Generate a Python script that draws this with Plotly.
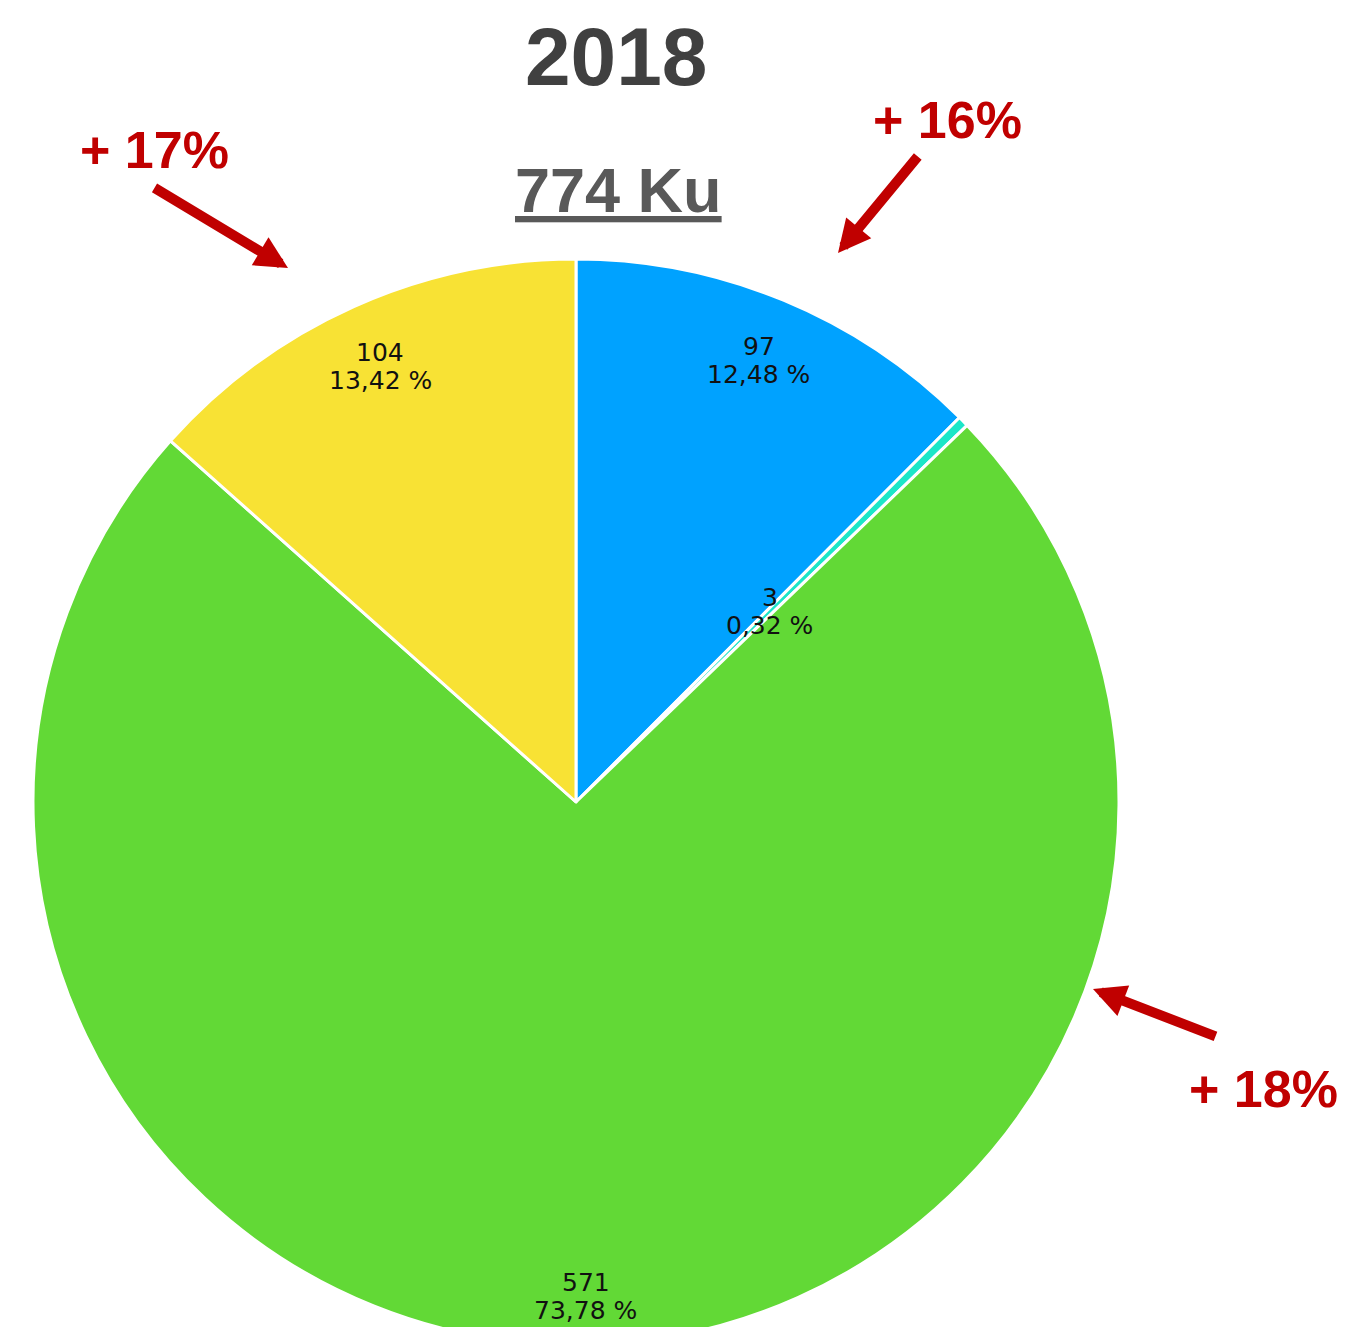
import math
import plotly.graph_objects as go

# ---------------- data ----------------
categories = ["Bleu", "Turquoise", "Vert", "Jaune"]
values = [97, 3, 571, 104]
percents = [12.48, 0.32, 73.78, 13.42]
percent_labels = ["12,48 %", "0,32 %", "73,78 %", "13,42 %"]
colors = ["#00A2FF", "#1CE6C8", "#62D936", "#F8E234"]
title_year = "2018"
total_label = "774 Ku"
growth_labels = ["+ 16%", "+ 17%", "+ 18%"]

# ---------------- geometry / style ----------------
W, H = 1362, 1337
OFF = 8  # page body margin
pie_top_page = 259
pie_bottom_fig = H
pie_top_fig = pie_top_page - OFF
R = (pie_bottom_fig - pie_top_fig) / 2
cx_page = 576
cx_fig = cx_page - OFF
pie_left_fig = cx_fig - R
pie_right_fig = cx_fig + R
label_radius = [0.88, 0.5, 0.91, 0.88]


def px(x):  # page pixel -> paper
    return (x - OFF) / W


def py(y):
    return 1 - (y - OFF) / H


def fx(x):  # figure pixel -> paper
    return x / W


def fy(y):
    return 1 - y / H


fig = go.Figure()
fig.add_trace(go.Pie(
    labels=categories,
    values=percents,
    sort=False,
    direction="clockwise",
    rotation=0,
    marker=dict(colors=colors, line=dict(color="white", width=3)),
    textinfo="none",
    hoverinfo="label+value",
    showlegend=False,
    domain=dict(x=[fx(pie_left_fig), fx(pie_right_fig)], y=[fy(pie_bottom_fig), fy(pie_top_fig)]),
))

cx = cx_fig
cy = (pie_top_fig + pie_bottom_fig) / 2

annotations = []
# slice labels computed from the data angles
total = sum(percents)
cum = 0
for v, p_lab, val, f in zip(percents, percent_labels, values, label_radius):
    mid = (cum + v / 2) / total * 2 * math.pi
    cum += v
    lx = cx + f * R * math.sin(mid)
    ly = cy - f * R * math.cos(mid)
    for txt, shift in ((str(val), 14), (p_lab, -14)):
        annotations.append(dict(
            x=fx(lx), y=fy(ly), xref="paper", yref="paper", text=txt,
            xanchor="center", yanchor="middle",
            showarrow=False, yshift=shift,
            font=dict(family="DejaVu Sans", size=25, color="#111111"),
        ))

# titles
annotations.append(dict(
    x=px(616), y=py(56), xref="paper", yref="paper", text="<b>" + title_year + "</b>",
    xanchor="center", yanchor="middle", borderpad=0,
    showarrow=False, font=dict(family="Liberation Sans", size=82, color="#404040"),
))
annotations.append(dict(
    x=px(618), y=py(190), xref="paper", yref="paper",
    text="<b><u>" + total_label + "</u></b>",
    xanchor="center", yanchor="middle",
    showarrow=False, font=dict(family="Liberation Sans", size=63, color="#595959"),
))

# growth labels
red = "#C00000"
growth_pos = [(947, 120), (154, 150), (1263, 1089)]
for txt, (tx, ty) in zip(growth_labels, growth_pos):
    annotations.append(dict(
        x=px(tx), y=py(ty), xref="paper", yref="paper", text="<b>" + txt + "</b>",
        xanchor="center", yanchor="middle",
        showarrow=False, font=dict(family="Liberation Sans", size=52, color=red),
    ))

# arrows (tip, tail) in page pixels
arrows = [((838, 253), (919, 155)), ((288, 268), (153, 187)), ((1093, 989), (1217, 1037))]
for (hx, hy), (tx, ty) in arrows:
    annotations.append(dict(
        x=px(hx), y=py(hy), xref="paper", yref="paper",
        ax=tx - hx, ay=ty - hy, axref="pixel", ayref="pixel",
        text="", showarrow=True, arrowhead=2, arrowsize=0.65, arrowwidth=10,
        arrowcolor=red, standoff=0, startstandoff=0,
        font=dict(size=1),
    ))

fig.update_layout(
    width=W, height=H,
    margin=dict(l=0, r=0, t=0, b=0),
    paper_bgcolor="white", plot_bgcolor="white",
    annotations=annotations,
)

fig.write_html("out.html")
